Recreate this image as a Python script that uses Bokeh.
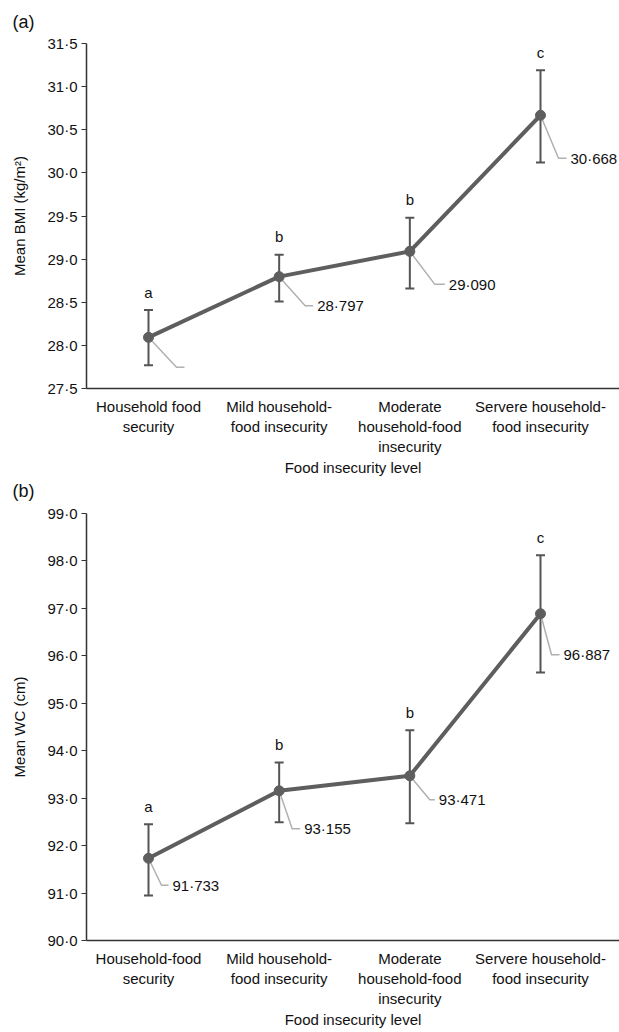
from bokeh.plotting import figure
from bokeh.models import Range1d, FixedTicker, CustomJSTickFormatter, Whisker, TeeHead, ColumnDataSource
from bokeh.layouts import column
from bokeh.embed import file_html
from bokeh.resources import INLINE
from bokeh.core.properties import value

# ---------------- data ----------------
cats_a = ["Household food\nsecurity", "Mild household-\nfood insecurity",
          "Moderate\nhousehold-food\ninsecurity", "Servere household-\nfood insecurity"]
cats_b = ["Household-food\nsecurity", "Mild household-\nfood insecurity",
          "Moderate\nhousehold-food\ninsecurity", "Servere household-\nfood insecurity"]
sig_letters = ["a", "b", "b", "c"]

bmi_mean = [28.093, 28.797, 29.090, 30.668]
bmi_lower = [27.77, 28.51, 28.66, 30.12]
bmi_upper = [28.41, 29.05, 29.48, 31.19]
bmi_show_label = [False, True, True, True]
bmi_ticks = [27.5, 28.0, 28.5, 29.0, 29.5, 30.0, 30.5, 31.0, 31.5]

wc_mean = [91.733, 93.155, 93.471, 96.887]
wc_lower = [90.95, 92.49, 92.47, 95.65]
wc_upper = [92.45, 93.75, 94.43, 98.12]
wc_show_label = [True, True, True, True]
wc_ticks = [90.0, 91.0, 92.0, 93.0, 94.0, 95.0, 96.0, 97.0, 98.0, 99.0]

# ---------------- layout / style ----------------
FONT = "Liberation Sans"
FS = "15px"
W = 619
BL = 86
FRAME_W = W - BL
X0, X1 = -0.4745, 3.6046
LINE_C = "#5e5e5e"
ERR_C = "#555555"
LEAD_C = "#b0b0b0"
TXT_C = "#111111"
# leader offsets in screen pixels: (diagonal dx, diagonal dy, horizontal length)
leader_a = [(28, 30, 8), (26, 29, 8), (25, 33, 10), (18, 43, 8)]
leader_b = [(13, 27, 7), (13, 38, 8), (20, 24, 5), (11, 41, 8)]


def fmt(v, nd):
    return f"{v:.{nd}f}".replace(".", "\u00b7")


def panel(tag, cats, mean, lower, upper, show, ticks, ylabel, leader,
          height, btop, bbot, frame_h, tag_dy):
    y0, y1 = ticks[0], ticks[-1]
    p = figure(width=W, height=height, x_range=Range1d(X0, X1), y_range=Range1d(y0, y1),
               output_backend="svg", toolbar_location=None,
               min_border_left=BL, min_border_right=0,
               min_border_top=btop, min_border_bottom=bbot)
    p.outline_line_color = None
    p.grid.visible = False
    p.background_fill_color = "white"

    xs = list(range(len(cats)))
    sx = FRAME_W / (X1 - X0)
    sy = frame_h / (y1 - y0)

    xa = p.xaxis[0]
    xa.ticker = FixedTicker(ticks=xs)
    xa.major_label_overrides = {i: c for i, c in enumerate(cats)}
    xa.major_tick_out = 0
    xa.major_tick_in = 0
    xa.minor_tick_out = 0
    xa.minor_tick_in = 0
    xa.major_label_standoff = 9
    xa.major_label_text_font = FONT
    xa.major_label_text_font_size = FS
    xa.major_label_text_line_height = 1.2
    xa.major_label_text_color = TXT_C
    xa.axis_label = "Food insecurity level"
    xa.axis_label_text_font = FONT
    xa.axis_label_text_font_size = FS
    xa.axis_label_text_font_style = "normal"
    xa.axis_label_text_color = TXT_C
    xa.axis_label_standoff = 1
    xa.axis_line_color = "#333333"
    xa.axis_line_width = 1.5

    ya = p.yaxis[0]
    ya.ticker = FixedTicker(ticks=ticks)
    ya.formatter = CustomJSTickFormatter(code="return tick.toFixed(1).replace('.', '\u00b7');")
    ya.major_tick_out = 5
    ya.major_tick_in = 0
    ya.minor_tick_out = 0
    ya.minor_tick_in = 0
    ya.major_label_standoff = 4
    ya.major_label_text_font = FONT
    ya.major_label_text_font_size = FS
    ya.major_label_text_color = TXT_C
    ya.axis_label = ylabel
    ya.axis_label_text_font = FONT
    ya.axis_label_text_font_size = FS
    ya.axis_label_text_font_style = "normal"
    ya.axis_label_text_color = TXT_C
    ya.axis_label_standoff = 16
    ya.axis_line_color = "#333333"
    ya.axis_line_width = 1.5
    ya.major_tick_line_color = "#333333"

    src = ColumnDataSource(dict(x=xs, lower=lower, upper=upper))
    p.add_layout(Whisker(base="x", lower="lower", upper="upper", source=src,
                         line_color=ERR_C, line_width=2,
                         upper_head=TeeHead(size=9, line_color=ERR_C, line_width=2),
                         lower_head=TeeHead(size=9, line_color=ERR_C, line_width=2)))

    lx, ly, tx, ty, tt = [], [], [], [], []
    for i, (x, y) in enumerate(zip(xs, mean)):
        dx, dy, h = leader[i]
        ye = y - dy / sy
        lx.append([x, x + dx / sx, x + (dx + h) / sx])
        ly.append([y, ye, ye])
        if show[i]:
            tx.append(x + (dx + h + 4) / sx)
            ty.append(ye)
            tt.append(fmt(y, 3))
    p.multi_line(lx, ly, line_color=LEAD_C, line_width=1.5)

    p.line(xs, mean, line_color=LINE_C, line_width=4, line_join="round")
    p.scatter(xs, mean, size=10, fill_color=LINE_C, line_color=LINE_C)

    p.text(tx, ty, text=tt, text_align="left", text_baseline="middle",
           text_font=value(FONT), text_font_size=FS, text_color=TXT_C, level="overlay")
    p.text(xs, upper, text=sig_letters, y_offset=-18, text_align="center", text_baseline="middle",
           text_font=value(FONT), text_font_size=FS, text_color=TXT_C, level="overlay")
    # panel tag, e.g. "(a)"
    p.text([X0 - 74 / sx], [y1 + tag_dy / sy], text=[tag], text_align="left", text_baseline="middle",
           text_font=value(FONT), text_font_size="18px", text_color=TXT_C, level="overlay")
    return p


pa = panel("(a)", cats_a, bmi_mean, bmi_lower, bmi_upper, bmi_show_label, bmi_ticks,
           "Mean BMI (kg/m\u00b2)", leader_a, height=482, btop=43, bbot=94, frame_h=345, tag_dy=22)
pb = panel("(b)", cats_b, wc_mean, wc_lower, wc_upper, wc_show_label, wc_ticks,
           "Mean WC (cm)", leader_b, height=550, btop=31, bbot=92, frame_h=427, tag_dy=23)

lay = column(pa, pb, spacing=0)
open("out.html", "w").write(file_html(lay, INLINE))
